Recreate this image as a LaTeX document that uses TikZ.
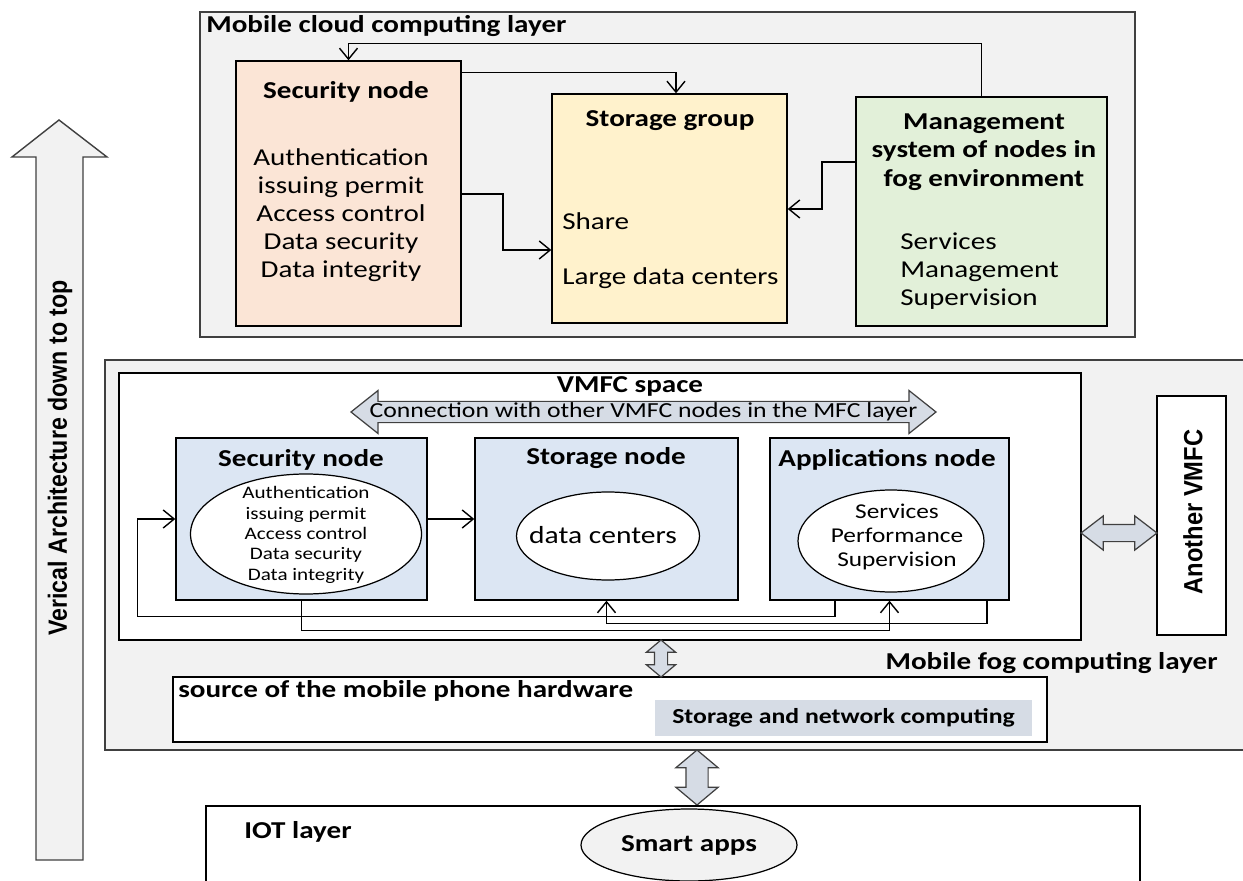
\documentclass[tikz,border=0pt]{standalone}
\usepackage{fontspec}
\setmainfont{Carlito}[FakeStretch=1.2]
\newfontfamily\narrowfont{Liberation Sans}[FakeStretch=0.88]
\newfontfamily\narrowerfont{Liberation Sans}[FakeStretch=0.9]
\usepackage{tikz}
\usetikzlibrary{shapes.geometric, shapes.arrows, arrows.meta, positioning, calc}
\definecolor{panelgray}{RGB}{242, 242, 242}
\definecolor{peach}{RGB}{251, 229, 214}
\definecolor{creamy}{RGB}{255, 242, 204}
\definecolor{mintgreen}{RGB}{226, 240, 217}
\definecolor{fogblue}{RGB}{220, 230, 243}
\definecolor{arrowgray}{RGB}{214, 220, 229}
\definecolor{edgegray}{RGB}{64, 64, 64}

\begin{document}
\begin{tikzpicture}[y=-1cm,
    layerbox/.style={rectangle, draw=edgegray, fill=panelgray, line width=0.8pt, inner sep=0pt},
    box/.style={rectangle, draw=black, line width=0.8pt, inner sep=0pt},
    ttl/.style={font=\bfseries\fontsize{13.8}{16.2}\selectfont, align=center, inner sep=0pt},
    txt/.style={font=\fontsize{13.8}{15.9}\selectfont, inner sep=0pt},
    ell/.style={ellipse, draw=black, fill=white, line width=0.7pt, inner sep=0pt},
    flow/.style={-{Straight Barb[length=2.2mm, width=3.6mm]}, line width=0.8pt},
    link/.style={double arrow, draw=edgegray, fill=arrowgray, line width=0.7pt, inner sep=0pt}
]
\path[use as bounding box, clip] (0,0) rectangle (24.86,17.62);

%% Vertical architecture arrow
\draw[draw=edgegray, fill=panelgray, line width=0.8pt]
    (0.72,17.2) -- (0.72,3.14) -- (0.24,3.14) -- (1.18,2.4) -- (2.14,3.14)
    -- (1.66,3.14) -- (1.66,17.2) -- cycle;
\node[rotate=90, font=\narrowfont\bfseries\fontsize{15}{16}\selectfont]
    (archText) at (1.2, 9.16) {Verical Architecture down to top};

%% Mobile cloud computing layer
\node[layerbox, minimum width=18.7cm, minimum height=6.5cm] (cloud) at (13.35, 3.49) {};
\node[ttl, anchor=west] (cloudTitle) at (4.12, 0.52) {Mobile cloud computing layer};

\node[box, fill=peach, minimum width=4.5cm, minimum height=5.3cm] (secTop) at (6.97, 3.87) {};
\node[ttl] (secTopTitle) at (6.92, 1.84) {Security node};
\node[txt, align=center] (secTopList) at (6.82, 4.3)
    {Authentication\\issuing permit\\Access control\\Data security\\Data integrity};

\node[box, fill=creamy, minimum width=4.7cm, minimum height=4.58cm] (storage) at (13.39, 4.17) {};
\node[ttl] (storageTitle) at (13.4, 2.42) {Storage group};
\node[txt, anchor=west] (share) at (11.24, 4.42) {Share};
\node[txt, anchor=west] (bigDC) at (11.24, 5.56) {Large data centers};

\node[box, fill=mintgreen, minimum width=5.02cm, minimum height=4.58cm] (mgmt) at (19.63, 4.23) {};
\node[ttl] (mgmtTitle) at (19.68, 3.04) {Management\\system of nodes in\\fog environment};
\node[txt, anchor=west, align=left] (mgmtList) at (18.0, 5.42) {Services\\Management\\Supervision};

\draw[flow] (mgmt.north) -- ++(0,-1.06) -| (secTop.north);
\draw[flow] ([yshift=-0.24cm]secTop.north east) -| ([xshift=0.13cm]storage.north);
\draw[flow] (secTop.east |- 0,3.88) -| (10.06,5.0) -- (storage.west |- 0,5.0);
\draw[flow] (mgmt.west |- 0,3.24) -| (16.44,4.18) -- (storage.east |- 0,4.18);

%% Mobile fog computing layer
\node[layerbox, minimum width=23cm, minimum height=7.8cm] (fog) at (13.6, 11.1) {};
\node[ttl, anchor=east] (fogTitle) at (24.36, 13.26) {Mobile fog computing layer};

\node[box, fill=white, minimum width=19.24cm, minimum height=5.34cm] (vmfc) at (12.0, 10.13) {};
\node[ttl] (vmfcTitle) at (12.6, 7.72) {VMFC space};
\node[link, minimum height=11.7cm, minimum width=0.86cm, double arrow head extend=0.2cm,
      double arrow tip angle=77, font=\fontsize{12.2}{13}\selectfont]
      (conn) at (12.87, 8.24) {Connection with other VMFC nodes in the MFC layer};

\node[box, fill=fogblue, minimum width=5.02cm, minimum height=3.24cm] (secFog) at (6.03, 10.38) {};
\node[ttl] (secFogTitle) at (6.02, 9.2) {Security node};
\node[ell, minimum width=4.62cm, minimum height=2.4cm] (secEll) at (6.12, 10.68) {};
\node[font=\fontsize{10}{11.6}\selectfont, align=center, inner sep=0pt] (secEllText) at (6.12, 10.7)
    {Authentication\\issuing permit\\Access control\\Data security\\Data integrity};

\node[box, fill=fogblue, minimum width=5.26cm, minimum height=3.24cm] (storFog) at (12.13, 10.38) {};
\node[ttl] (storFogTitle) at (12.12, 9.16) {Storage node};
\node[ell, minimum width=3.66cm, minimum height=1.76cm] (storEll) at (12.16, 10.72) {};
\node[font=\fontsize{14}{16}\selectfont, inner sep=0pt] (storEllText) at (12.06, 10.7) {data centers};

\node[box, fill=fogblue, minimum width=4.78cm, minimum height=3.24cm] (appFog) at (17.79, 10.38) {};
\node[ttl] (appFogTitle) at (17.74, 9.2) {Applications node};
\node[ell, minimum width=3.72cm, minimum height=2.04cm] (appEll) at (17.82, 10.82) {};
\node[font=\fontsize{12}{13.6}\selectfont, align=center, inner sep=0pt] (appEllText) at (17.94, 10.74)
    {Services\\Performance\\Supervision};

\draw[flow] (secFog) -- (storFog);
\draw[flow] ([xshift=-1.09cm]appFog.south) -- ++(0,0.32) -| ([xshift=-0.76cm]secFog.west) -- (secFog.west);
\draw[flow] ([xshift=1.95cm]appFog.south) -- ++(0,0.46) -| (storFog.south);
\draw[flow] (secFog.south) -- ++(0,0.6) -| (appFog.south);

%% Another VMFC
\node[box, fill=white, minimum width=1.38cm, minimum height=4.78cm] (another) at (23.83, 10.31) {};
\node[rotate=90, font=\narrowerfont\bfseries\fontsize{15}{16}\selectfont] (anotherText) at (23.86, 10.24) {Another VMFC};
\node[link, minimum height=1.52cm, inner ysep=0.16cm, double arrow head extend=0.17cm,
      double arrow tip angle=75] (linkAnother) at (22.38, 10.66) {};

%% Mobile phone hardware
\node[box, fill=white, minimum width=17.48cm, minimum height=1.3cm] (hw) at (12.2, 14.19) {};
\node[ttl, anchor=west] (hwTitle) at (3.56, 13.82) {source of the mobile phone hardware};
\node[rectangle, fill=arrowgray, minimum width=7.54cm, minimum height=0.72cm,
      font=\bfseries\fontsize{12.2}{13}\selectfont] (netComp) at (16.87, 14.36) {Storage and network computing};
\node[link, rotate=90, minimum height=0.74cm, inner ysep=0.12cm, double arrow head extend=0.16cm,
      double arrow tip angle=100] (linkHw) at (13.22, 13.17) {};

%% IOT layer
\node[link, rotate=90, minimum height=1.1cm, inner ysep=0.21cm, double arrow head extend=0.2cm,
      double arrow tip angle=100] (linkIot) at (13.94, 15.55) {};
\node[box, fill=white, minimum width=18.68cm, minimum height=1.8cm] (iot) at (13.46, 17.02) {};
\node[ttl, anchor=west] (iotTitle) at (4.88, 16.64) {IOT layer};
\node[ell, fill=panelgray, minimum width=4.32cm, minimum height=1.44cm,
      font=\bfseries\fontsize{13.8}{16}\selectfont] (smart) at (13.78, 16.9) {Smart apps};

\end{tikzpicture}
\end{document}
